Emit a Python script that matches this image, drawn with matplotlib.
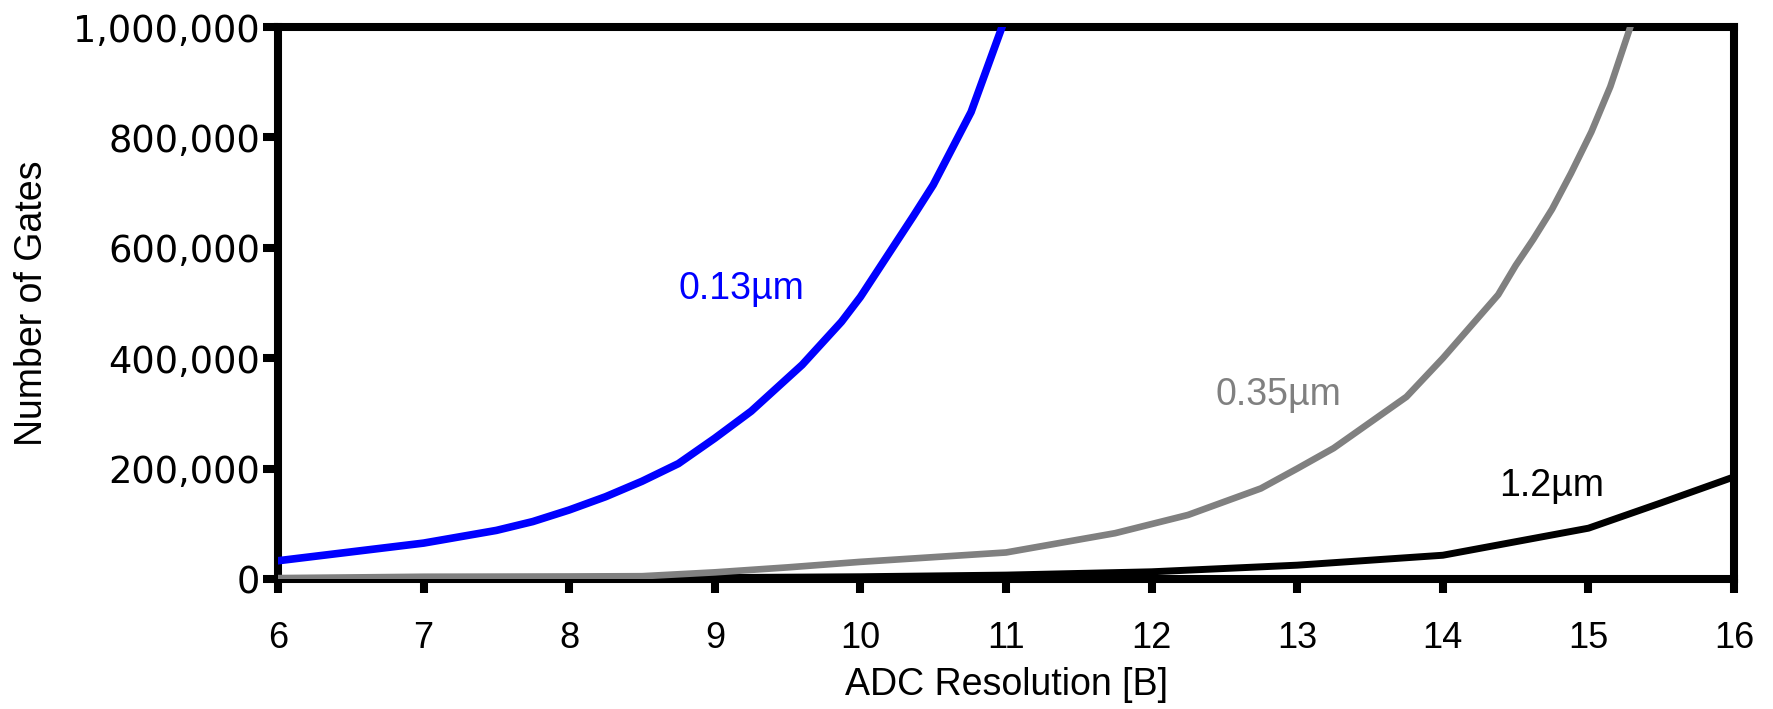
import matplotlib
matplotlib.use("Agg")
import matplotlib.pyplot as plt
from matplotlib.ticker import FuncFormatter, MultipleLocator

# Data
res_013 = [6, 7, 7.5, 7.75, 8, 8.25, 8.5, 8.75, 9, 9.25, 9.6, 9.87, 10, 10.36, 10.5, 10.76, 11.0]
gates_013 = [33000, 65000, 88000, 104000, 125000, 149000, 177000, 209000, 255000, 304000,
             388000, 466000, 511000, 656000, 714000, 846000, 1020000]

res_035 = [6, 7, 8, 8.5, 9, 9.5, 10, 11, 11.75, 12.25, 12.75, 13, 13.25, 13.75, 14, 14.38,
           14.5, 14.62, 14.75, 14.88, 15.02, 15.15, 15.3]
gates_035 = [1500, 4000, 4500, 5000, 12000, 21000, 31000, 48000, 83000, 116000, 164000,
             200000, 237000, 330000, 400000, 515000, 568000, 615000, 670000, 735000, 810000,
             892000, 1010000]

res_12 = [6, 7, 8, 9, 10, 11, 12, 13, 14, 15, 15.5, 16]
gates_12 = [500, 1000, 1500, 2500, 4000, 7000, 13000, 25000, 43000, 92000, 138000, 185000]

series_labels = ["0.13µm", "0.35µm", "1.2µm"]
series_colors = ["#0000FF", "#808080", "#000000"]
label_pos = [(9.18, 526000), (12.87, 333000), (14.75, 168000)]

x_label = "ADC Resolution [B]"
y_label = "Number of Gates"

fig = plt.figure(figsize=(17.74, 7.09), dpi=100)
ax = fig.add_axes([0.1567, 0.1834, 0.9775 - 0.1567, 0.9619 - 0.1834])

ax.plot(res_12, gates_12, color=series_colors[2], lw=5.0, solid_joinstyle="round", zorder=2)
ax.plot(res_035, gates_035, color=series_colors[1], lw=4.8, solid_joinstyle="round", zorder=3)
ax.plot(res_013, gates_013, color=series_colors[0], lw=5.5, solid_joinstyle="round", zorder=4)

for lab, col, (lx, ly) in zip(series_labels, series_colors, label_pos):
    ax.text(lx, ly, lab, color=col, fontsize=27, family="Liberation Sans",
            ha="center", va="center")

ax.set_xlim(6, 16)
ax.set_ylim(0, 1000000)
ax.xaxis.set_major_locator(MultipleLocator(1))
ax.yaxis.set_major_locator(MultipleLocator(200000))
ax.yaxis.set_major_formatter(FuncFormatter(lambda v, p: f"{int(round(v)):,}"))

for s in ax.spines.values():
    s.set_linewidth(5.8)
    s.set_color("black")

ax.tick_params(axis="both", direction="out", width=5.8, color="black")
ax.tick_params(axis="x", length=10, pad=20)
ax.tick_params(axis="y", length=11, pad=2)

for t in ax.get_xticklabels():
    t.set_fontfamily("Liberation Sans")
    t.set_fontsize(26)
for t in ax.get_yticklabels():
    t.set_fontfamily("DejaVu Sans")
    t.set_fontsize(26.5)

ax.set_xlabel(x_label, fontsize=27, family="Liberation Sans", labelpad=8)
ax.set_ylabel(y_label, fontsize=27, family="Liberation Sans", labelpad=17)

fig.savefig("out.png", dpi=100)
